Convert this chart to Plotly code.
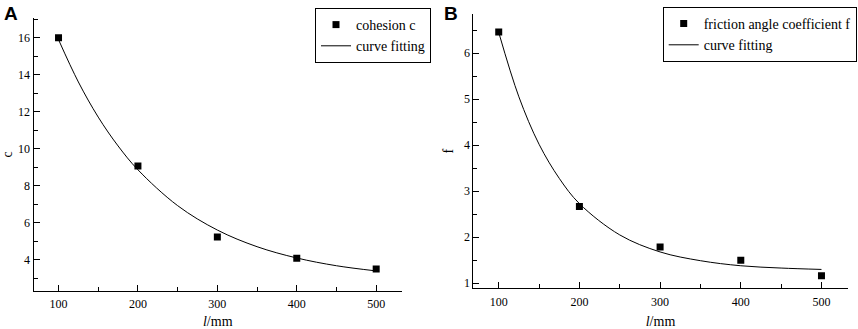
import plotly.graph_objects as go

# Panel A: cohesion c
l_pts = [100, 200, 300, 400, 500]
c_pts = [16.0, 9.06, 5.23, 4.08, 3.5]
l_fit = [100, 125, 150, 175, 200, 250, 300, 350, 400, 450, 500]
c_fit = [15.9, 13.61, 11.71, 10.15, 8.86, 6.92, 5.6, 4.70, 4.09, 3.67, 3.39]

# Panel B: friction angle coefficient f
f_pts = [6.46, 2.67, 1.79, 1.5, 1.16]
f_fit = [6.45, 5.05, 4.02, 3.28, 2.73, 2.05, 1.68, 1.49, 1.38, 1.33, 1.30]

x_ticks = [100, 200, 300, 400, 500]

SERIF = "Liberation Serif, Times New Roman, serif"

fig = go.Figure()
fig.add_trace(go.Scatter(x=l_pts, y=c_pts, mode="markers", name="cohesion c",
                         marker=dict(symbol="square", size=7, color="black"),
                         xaxis="x", yaxis="y", legend="legend"))
fig.add_trace(go.Scatter(x=l_fit, y=c_fit, mode="lines", name="curve fitting",
                         line=dict(color="black", width=1, shape="spline"),
                         xaxis="x", yaxis="y", legend="legend"))
fig.add_trace(go.Scatter(x=l_pts, y=f_pts, mode="markers", name="friction angle coefficient f",
                         marker=dict(symbol="square", size=7, color="black"),
                         xaxis="x2", yaxis="y2", legend="legend2"))
fig.add_trace(go.Scatter(x=l_fit, y=f_fit, mode="lines", name="curve fitting",
                         line=dict(color="black", width=1, shape="spline"),
                         xaxis="x2", yaxis="y2", legend="legend2"))

common_x = dict(showline=True, linecolor="black", linewidth=1, showgrid=False, zeroline=False,
                automargin=False,
                ticks="inside", ticklen=6, tickcolor="black", tickwidth=1,
                tickmode="array", tickvals=x_ticks,
                minor=dict(ticks="inside", ticklen=4, tickcolor="black", dtick=50, tick0=0),
                tickfont=dict(family=SERIF, size=12, color="black"),
                ticklabelstandoff=2,
                range=[68.5, 532.5],
                title=dict(text="<i>l</i>/mm", font=dict(family=SERIF, size=14, color="black"), standoff=8))
common_y = dict(showline=True, linecolor="black", linewidth=1, showgrid=False, zeroline=False,
                automargin=False,
                ticks="inside", ticklen=6, tickcolor="black", tickwidth=1,
                tickfont=dict(family=SERIF, size=12, color="black"))

legend_style = dict(yanchor="top", xanchor="left",
                    bordercolor="black", borderwidth=1, bgcolor="white",
                    font=dict(family=SERIF, size=14, color="black"),
                    tracegroupgap=0)

fig.update_layout(
    width=858, height=329,
    margin=dict(l=0, r=0, t=0, b=0, autoexpand=False),
    paper_bgcolor="white", plot_bgcolor="white",
    showlegend=True,
    xaxis=dict(domain=[33.5/858, 402/858], anchor="y", **common_x),
    yaxis=dict(domain=[1-290.7/329, 1-18/329], anchor="x", range=[2.32, 17.07],
               tick0=0, dtick=2,
               minor=dict(ticks="inside", ticklen=4, tickcolor="black", dtick=1, tick0=0),
               title=dict(text="c", font=dict(family=SERIF, size=14, color="black"), standoff=8),
               **common_y),
    xaxis2=dict(domain=[473.3/858, 847.7/858], anchor="y2", **common_x),
    yaxis2=dict(domain=[1-288.3/329, 1-14/329], anchor="x2", range=[0.89, 6.85],
                tick0=0, dtick=1,
                minor=dict(ticks="inside", ticklen=4, tickcolor="black", dtick=0.5, tick0=0),
                title=dict(text="f", font=dict(family=SERIF, size=14, color="black"), standoff=6),
                **common_y),
    legend=dict(x=315/858, y=1-8/329, **legend_style),
    legend2=dict(x=662.7/858, y=1-7/329, **legend_style),
    annotations=[
        dict(text="<b>A</b>", x=2/858, y=1-1/329, xref="paper", yref="paper",
             xanchor="left", yanchor="top", showarrow=False,
             font=dict(family="Liberation Sans, Arial, sans-serif", size=19, color="black")),
        dict(text="<b>B</b>", x=442/858, y=1-1/329, xref="paper", yref="paper",
             xanchor="left", yanchor="top", showarrow=False,
             font=dict(family="Liberation Sans, Arial, sans-serif", size=19, color="black")),
    ],
)

fig.write_html("out.html", config={"displayModeBar": False},
               post_script="document.body.style.margin='0';document.body.style.overflow='hidden';")
